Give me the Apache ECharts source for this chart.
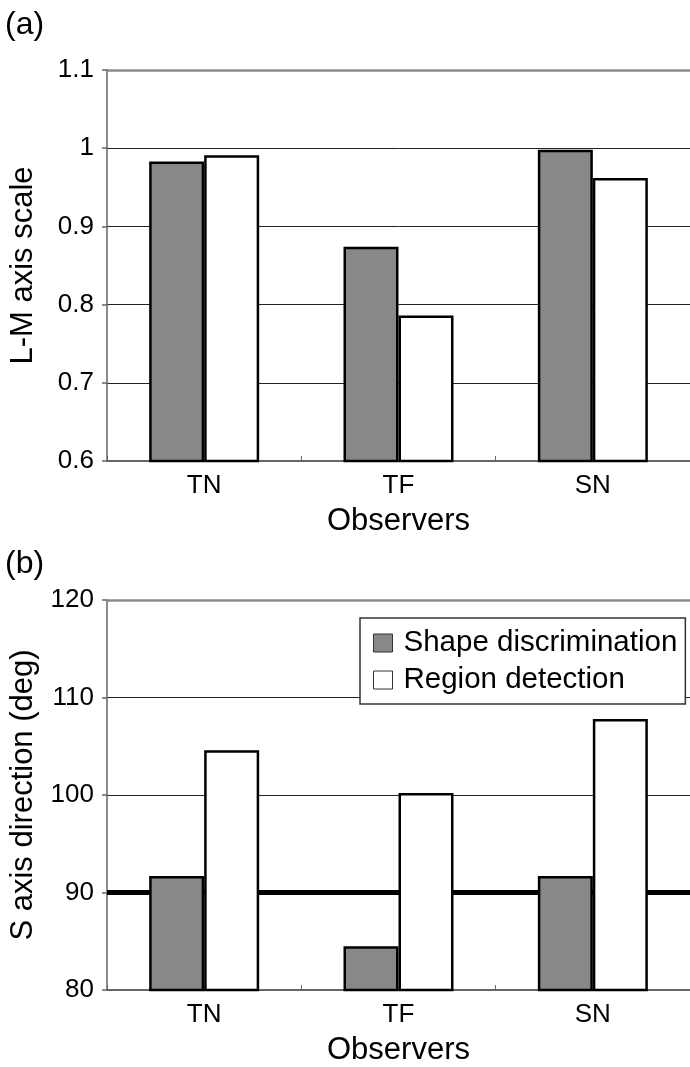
<!DOCTYPE html>
<html>
<head>
<meta charset="utf-8">
<script src="https://cdn.jsdelivr.net/npm/echarts@6/dist/echarts.min.js"></script>
<style>
  html, body { margin: 0; padding: 0; background: #fff; }
  #chart { width: 690px; height: 1067px; }
</style>
</head>
<body>
<div id="chart"></div>
<script>
// ---- data ----
var categories = ['TN', 'TF', 'SN'];
var seriesNames = ['Shape discrimination', 'Region detection'];
var lmShape = [0.983, 0.874, 0.998];
var lmRegion = [0.991, 0.786, 0.962];
var sShape = [91.7, 84.5, 91.7];
var sRegion = [104.6, 100.2, 107.8];
var lmTicks = { min: 0.6, max: 1.1, interval: 0.1 };
var sTicks = { min: 80, max: 120, interval: 10 };
var refLine = 90;

var FONT = "'Liberation Sans', Arial, Helvetica, sans-serif";
var chart = echarts.init(document.getElementById('chart'), null, { renderer: 'canvas' });

function xAxisFor(gridIndex) {
  return [{
    type: 'category', gridIndex: gridIndex, data: categories,
    name: 'Observers', nameLocation: 'middle', nameGap: 45,
    nameTextStyle: { fontFamily: FONT, fontSize: 31, color: '#000' },
    axisLine: { lineStyle: { color: '#666', width: 2 } },
    axisTick: { show: true, inside: true, length: 5, lineStyle: { color: '#666', width: 1 } },
    axisLabel: { fontFamily: FONT, fontSize: 26, color: '#000', margin: 12 },
    splitLine: { show: false }
  }, {
    type: 'category', gridIndex: gridIndex, data: categories, position: 'top',
    axisLine: { show: true, lineStyle: { color: '#8a8a8a', width: 2.5 } },
    axisTick: { show: false }, axisLabel: { show: false }, splitLine: { show: false }
  }];
}

function yAxisFor(gridIndex, ticks, name) {
  return {
    type: 'value', gridIndex: gridIndex, min: ticks.min, max: ticks.max, interval: ticks.interval,
    name: name, nameLocation: 'middle', nameGap: 68, nameRotate: 90,
    nameTextStyle: { fontFamily: FONT, fontSize: 31, color: '#000' },
    axisLine: { show: true, lineStyle: { color: '#666', width: 1.5 } },
    axisTick: { show: true, inside: false, length: 5, lineStyle: { color: '#666', width: 1.5 } },
    axisLabel: { fontFamily: FONT, fontSize: 26, color: '#000', margin: 13 },
    splitLine: { show: true, lineStyle: { color: '#222', width: 1 } }
  };
}

function bars(xIdx, yIdx, shape, region) {
  return [
    { type: 'bar', barWidth: 55, barGap: '0%', z: 3,
      name: seriesNames[0], xAxisIndex: xIdx, yAxisIndex: yIdx, data: shape,
      itemStyle: { color: '#888888', borderColor: '#000', borderWidth: 2.5 } },
    { type: 'bar', barWidth: 55, barGap: '0%', z: 3,
      name: seriesNames[1], xAxisIndex: xIdx, yAxisIndex: yIdx, data: region,
      itemStyle: { color: '#ffffff', borderColor: '#000', borderWidth: 2.5 } }
  ];
}

var xAxes = xAxisFor(0).concat(xAxisFor(1));

var option = {
  backgroundColor: '#fff',
  animation: false,
  title: [
    { text: '(a)', left: 5, top: 9, padding: 0, textStyle: { fontFamily: FONT, fontSize: 32, fontWeight: 'normal', color: '#000' } },
    { text: '(b)', left: 5, top: 548, padding: 0, textStyle: { fontFamily: FONT, fontSize: 32, fontWeight: 'normal', color: '#000' } }
  ],
  grid: [
    { left: 105, top: 70, width: 590, height: 391 },
    { left: 105, top: 600, width: 590, height: 391 }
  ],
  legend: {
    data: seriesNames, orient: 'vertical', left: 360, top: 618, icon: 'rect',
    backgroundColor: '#fff', borderColor: '#333', borderWidth: 1.5,
    padding: [10, 8, 9, 13], itemGap: 7, itemWidth: 19, itemHeight: 18,
    itemStyle: { borderColor: '#333', borderWidth: 1 },
    textStyle: { fontFamily: FONT, fontSize: 29.5, color: '#000', lineHeight: 30, padding: [0, 0, 0, 6] }
  },
  xAxis: xAxes,
  yAxis: [
    yAxisFor(0, lmTicks, 'L-M axis scale'),
    yAxisFor(1, sTicks, 'S axis direction (deg)')
  ],
  series: bars(0, 0, lmShape, lmRegion).concat(bars(2, 1, sShape, sRegion)).concat([{
    type: 'line', xAxisIndex: 2, yAxisIndex: 1, data: [], z: 1, silent: true,
    markLine: {
      z: 1, silent: true, symbol: ['none', 'none'], label: { show: false },
      lineStyle: { color: '#000', width: 5, type: 'solid' },
      data: [{ yAxis: refLine }]
    }
  }])
};
chart.setOption(option);
</script>
</body>
</html>
